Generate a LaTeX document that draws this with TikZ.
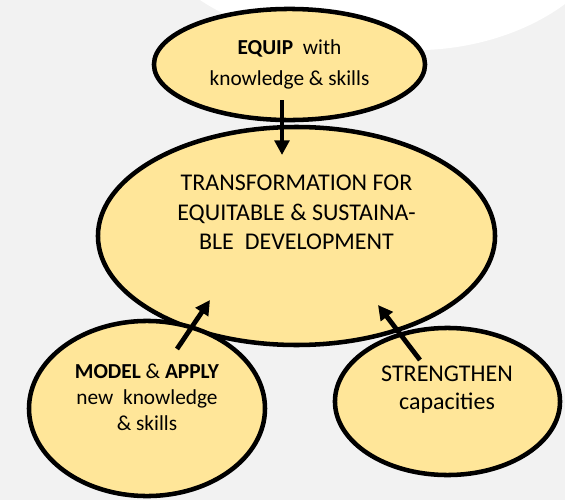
\documentclass[tikz,border=0pt]{standalone}
\usepackage{fontspec}
\setmainfont{Carlito}
\usetikzlibrary{shapes.geometric,arrows.meta}
\definecolor{goldfill}{HTML}{FFE699}
\definecolor{backgray}{HTML}{F2F2F2}
\begin{document}
\begin{tikzpicture}[x=0.75pt, y=-0.75pt,
	oval/.style={ellipse, fill=goldfill, draw=black, line width=3.4pt, inner sep=0pt},
	words/.style={align=center, inner sep=0pt},
	arr/.style={-{Triangle[length=11pt, width=11pt]}, line width=3.6pt}]
	    \fill[backgray] (0,0) rectangle (565,500);
	    \fill[white] (200,0) .. controls (260,40) and (350,52) .. (425,50) .. controls (480,48) and (530,30) .. (565,4) -- (565,0) -- cycle;
	    \node[oval, minimum width=203.3pt, minimum height=83.3pt, words,
	        font=\fontsize{16}{23}\selectfont] (equip) at (289.5,64.5) {\textbf{EQUIP}\ \ with\\knowledge \& skills};
	    \node[oval, minimum width=297.8pt, minimum height=163.5pt] (trans) at (296.5,236) {};
	    \node[oval, minimum width=177pt, minimum height=131.3pt] (model) at (147,408.5) {};
	    \node[oval, minimum width=168.8pt, minimum height=110.3pt] (strength) at (447.5,401.5) {};
	    \node[words, font=\fontsize{18}{22}\selectfont] (transtext) at (296.5,212.5)
	        {TRANSFORMATION FOR\\EQUITABLE \& SUSTAINA-\\BLE\ \ DEVELOPMENT};
	    \node[words, font=\fontsize{16}{19.5}\selectfont] (modeltext) at (147,397)
	        {\textbf{MODEL} \& \textbf{APPLY}\\new\ \ knowledge\\\& skills};
	    \node[words, font=\fontsize{18}{21}\selectfont] (strengthtext) at (447,390)
	        {STRENGTHEN\\capacities};
	    \coordinate (equiptail) at (282,100);
	    \coordinate (transtop) at (282,155);
	    \coordinate (modeltail) at (177,349);
	    \coordinate (transleft) at (210,300);
	    \coordinate (strengthtail) at (420,360);
	    \coordinate (transright) at (378,305);
	    \draw[arr] (equiptail) -- (transtop);
	    \draw[arr] (modeltail) -- (transleft);
	    \draw[arr] (strengthtail) -- (transright);
\end{tikzpicture}
\end{document}
